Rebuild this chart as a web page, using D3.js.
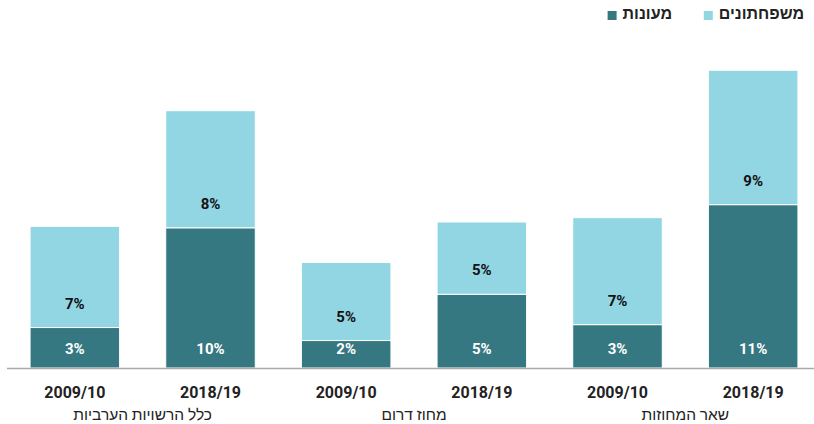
<!DOCTYPE html>
<meta charset="utf-8">
<title>מעונות ומשפחתונים</title>
<style>
  html, body { margin: 0; padding: 0; background: #fff; }
  svg { display: block; font-family: Roboto, 'Liberation Sans', sans-serif; }
  .tick { font-size: 16px; font-weight: bold; fill: #222; text-anchor: middle; }
  .group { font-size: 15.5px; font-weight: normal; fill: #222; text-anchor: middle; }
  .val { font-size: 15px; font-weight: bold; text-anchor: middle; dominant-baseline: central; }
  .legend text { font-size: 16px; font-weight: bold; fill: #222; text-anchor: end; }
</style>
<svg width="814" height="424"></svg>
<script src="https://cdn.jsdelivr.net/npm/d3@7"></script>
<script>
  /* global d3 */
  'use strict'
  // screen order, left to right
  const groups = ['כלל הרשויות הערביות', 'מחוז דרום', 'שאר המחוזות']
  const periods = ['2009/10', '2018/19']
  const daycare = [2.8, 9.7, 1.9, 5.1, 3.0, 11.3]   // מעונות (dark)
  const family = [7.0, 8.1, 5.4, 5.0, 7.4, 9.3]    // משפחתונים (light)
  const labels = {
    daycare: ['3%', '10%', '2%', '5%', '3%', '11%'],
    family: ['7%', '8%', '5%', '5%', '7%', '9%'],
  }
  const seriesNames = ['משפחתונים', 'מעונות']

  const colors = { daycare: '#367881', family: '#93d6e3' }
  const width = 814
  const baseline = 368

  const cats = groups.flatMap(g => periods.map(p => `${g}|${p}`))
  const rows = cats.map((c, i) => ({
    key: c, group: c.split('|')[0], period: c.split('|')[1],
    daycare: daycare[i], family: family[i],
    lblD: labels.daycare[i], lblF: labels.family[i],
  }))

  const x = d3.scaleBand().domain(cats).range([7, 821])
    .paddingInner(0.34).paddingOuter(0.17)
  const y = d3.scaleLinear().domain([0, 22]).range([baseline, 50])

  const svg = d3.select('svg')
  const stack = d3.stack().keys(['daycare', 'family'])(rows)

  svg.append('g').selectAll('g')
    .data(stack)
    .join('g')
    .attr('fill', s => colors[s.key])
    .selectAll('rect')
    .data(s => s)
    .join('rect')
    .attr('x', d => x(d.data.key))
    .attr('width', x.bandwidth())
    .attr('y', d => y(d[1]))
    .attr('height', d => y(d[0]) - y(d[1]))
    .attr('stroke', '#fff')
    .attr('stroke-width', 1)

  // axis line
  svg.append('line')
    .attr('x1', 7).attr('x2', width)
    .attr('y1', baseline + 0.5).attr('y2', baseline + 0.5)
    .attr('stroke', '#aaa').attr('stroke-width', 1.5)

  // value labels
  const lbl = svg.append('g')
  lbl.selectAll('.vd')
    .data(rows)
    .join('text')
    .attr('class', 'val')
    .attr('fill', '#fff')
    .attr('x', d => x(d.key) + x.bandwidth() / 2)
    .attr('y', y(0) - 19)
    .text(d => d.lblD)
  lbl.selectAll('.vf')
    .data(rows)
    .join('text')
    .attr('class', 'val')
    .attr('fill', '#111')
    .attr('x', d => x(d.key) + x.bandwidth() / 2)
    .attr('y', d => y(d.daycare) - 24)
    .text(d => d.lblF)

  // period ticks
  svg.append('g').selectAll('text')
    .data(rows)
    .join('text')
    .attr('class', 'tick')
    .attr('x', d => x(d.key) + x.bandwidth() / 2)
    .attr('y', 398)
    .text(d => d.period)

  // group labels
  svg.append('g').selectAll('text')
    .data(groups)
    .join('text')
    .attr('class', 'group')
    .attr('direction', 'rtl')
    .attr('x', g => {
      const a = x(`${g}|${periods[0]}`), b = x(`${g}|${periods[1]}`) + x.bandwidth()
      return (a + b) / 2
    })
    .attr('y', 420)
    .style('text-anchor', 'middle')
    .text(g => g)

  // legend, right to left
  const legend = svg.append('g').attr('class', 'legend')
  const legendItems = [
    { name: seriesNames[0], color: colors.family, right: 804 },
    { name: seriesNames[1], color: colors.daycare, right: 672 },
  ]
  legendItems.forEach(it => {
    const t = legend.append('text')
      .attr('x', it.right).attr('y', 19)
      .attr('direction', 'ltr')
      .text(it.name)
    const w = t.node().getComputedTextLength()
    legend.append('rect')
      .attr('x', it.right - w - 15).attr('y', 11)
      .attr('width', 9).attr('height', 9)
      .attr('fill', it.color)
  })
</script>
